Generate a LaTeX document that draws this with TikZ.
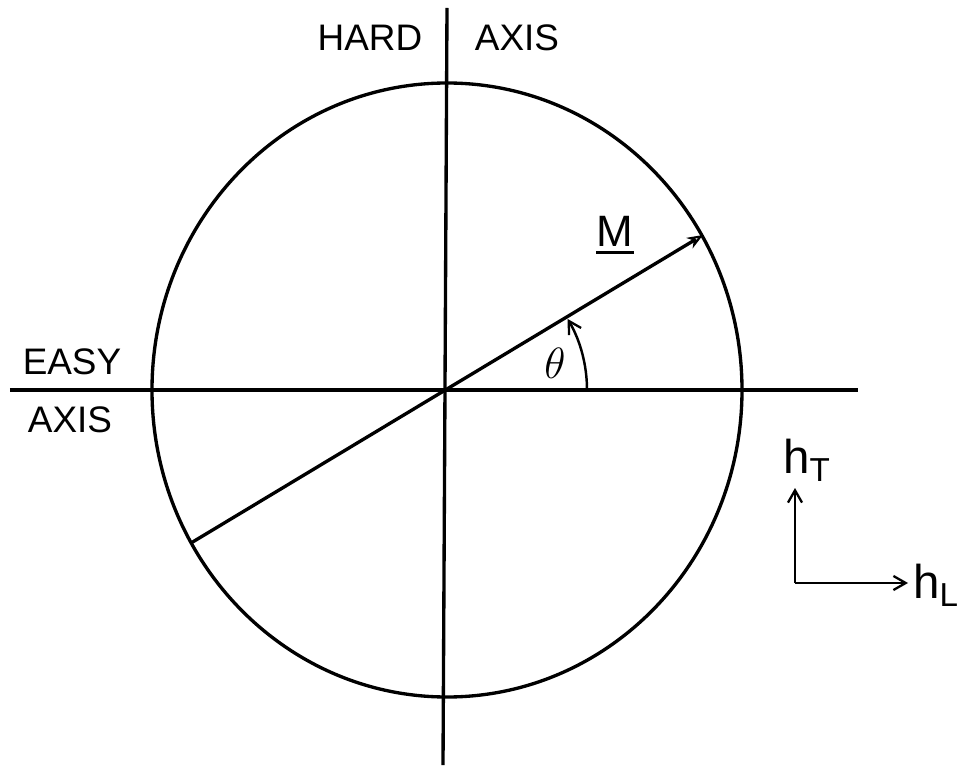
\documentclass[tikz,border=0pt]{standalone}
\usepackage{fontspec}
\setmainfont{Liberation Sans}
\usepackage{tikz}
\usetikzlibrary{arrows.meta,positioning,calc}

\begin{document}
\begin{tikzpicture}[
    line/.style={line width=1.9pt},
    lbl/.style={font=\fontsize{21}{24}\selectfont, inner sep=0pt},
    hlbl/.style={font=\fontsize{27}{30}\selectfont, inner sep=0pt},
    arr/.style={line width=1.4pt, -{Straight Barb[length=7pt, width=8pt, line width=1.3pt]}}
  ]
    \useasboundingbox (-8.94,-7.56) rectangle (10.44,7.80);

    % axes and the circle
    \coordinate (O)    at (0, 0);
    \coordinate (el)   at (-8.74, 0);
    \coordinate (er)   at (8.22, 0);
    \coordinate (ht)   at (0, 7.64);
    \coordinate (hb)   at (-0.08, -7.5);
    \draw[line] (el) -- (er);
    \draw[line] (ht) -- (hb);
    \draw[line] (O) ellipse [x radius=5.9, y radius=6.14];

    % magnetisation
    \coordinate (mlo)  at (-5.12, -3.06);
    \coordinate (mhi)  at (5.12, 3.10);
    \draw[line, -{Stealth[open, length=9pt, width=7pt, line width=1.2pt]}] (mlo) -- (mhi);
    \draw[arr] (2.8, 0) arc (0:30.5:2.8);

    \node[font=\fontsize{23}{26}\selectfont] (theta) at (2.16, 0.54) {$\theta$};
    \node[lbl, font=\fontsize{25}{28}\selectfont] (M) at (3.36, 3.18) {M};
    \draw[line width=1.6pt] ($(M.south west)+(0,-0.12)$) -- ($(M.south east)+(0,-0.12)$);

    \node[lbl] (easy)  at (-7.5, 0.56)  {EASY};
    \node[lbl] (eaxis) at (-7.54, -0.6) {AXIS};
    \node[lbl] (hard)  at (-1.54, 7.04) {HARD};
    \node[lbl] (haxis) at (1.4, 7.04)   {AXIS};

    % field directions
    \coordinate (hc) at (6.96, -3.86);
    \coordinate (hu) at (6.96, -1.96);
    \coordinate (hr) at (9.22, -3.86);
    \draw[arr] (hc) -- (hu);
    \draw[arr] (hc) -- (hr);
    \node[hlbl] (hT) at (7.2, -1.4) {h\textsubscript{T}};
    \node[hlbl] (hL) at (9.78, -3.9) {h\textsubscript{L}};
  \end{tikzpicture}
\end{document}
